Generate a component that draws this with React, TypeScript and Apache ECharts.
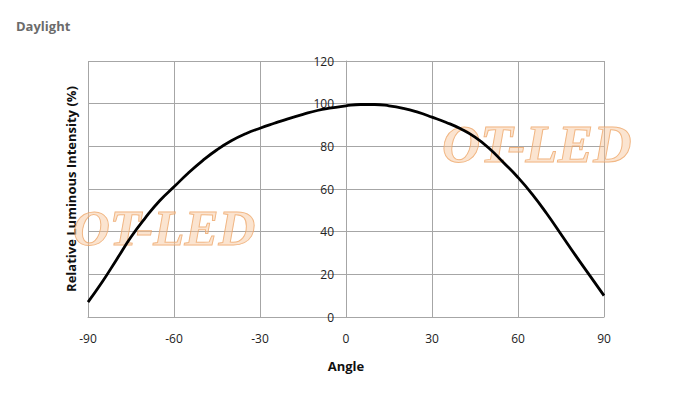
import React, { useEffect, useRef } from "react";
import * as echarts from "echarts";

const angles = [-90, -85, -80, -75, -70, -65, -60, -55, -50, -45, -40, -35, -30, -25, -20, -15, -10, -5, 0, 5, 10, 15, 20, 25, 30, 35, 40, 45, 50, 55, 60, 65, 70, 75, 80, 85, 90];
const intensity = [7, 16.5, 27, 37.5, 46.5, 54.5, 61, 67.5, 73.3, 78.4, 82.6, 85.9, 88.5, 90.8, 93, 95, 96.8, 98, 99, 99.6, 99.6, 99, 97.8, 96, 93.7, 91.2, 88.2, 84.3, 79, 72.3, 65.4, 57.5, 48.5, 38.8, 29, 19.5, 10];
const xTicks = { min: -90, max: 90, interval: 30 };
const yTicks = { min: 0, max: 120, interval: 20 };
const subtitle = "Daylight";
const yName = "Relative Luminous Intensity (%)";
const xName = "Angle";
const watermark = "OT-LED";

export default function App() {
  const ref = useRef<HTMLDivElement>(null);
  useEffect(() => {
    document.body.style.margin = "0";
    const chart = echarts.init(ref.current!, null, { renderer: "svg" });
    const font = "'Open Sans', 'Liberation Sans', sans-serif";
    const plotLeft = 88;
    const plotRight = 81;
    const plotWidth = 685 - plotLeft - plotRight;
    const zeroOffset = -plotWidth * (0 - xTicks.min) / (xTicks.max - xTicks.min);
    const wm = (x: number, y: number, size: number) => ({
      type: "text",
      x,
      y,
      z: 1,
      style: {
        text: watermark,
        font: `italic bold ${size}px 'Liberation Serif', 'DejaVu Serif', serif`,
        fill: "rgba(246, 195, 150, 0.45)",
        stroke: "rgba(236, 160, 95, 0.8)",
        lineWidth: 1,
        textVerticalAlign: "middle",
      },
    });
    chart.setOption({
      animation: false,
      grid: { left: plotLeft, right: plotRight, top: 61, bottom: 89, containLabel: false },
      xAxis: {
        type: "value",
        min: xTicks.min,
        max: xTicks.max,
        interval: xTicks.interval,
        axisLine: { show: true, lineStyle: { color: "#a6a6a6", width: 1 } },
        axisTick: { show: false },
        axisLabel: { color: "#222", fontSize: 12, fontFamily: font, margin: 15 },
        splitLine: { show: true, lineStyle: { color: "#a6a6a6", width: 1 } },
      },
      yAxis: {
        type: "value",
        min: yTicks.min,
        max: yTicks.max,
        interval: yTicks.interval,
        offset: zeroOffset,
        axisLine: { show: true, onZero: false, lineStyle: { color: "#a6a6a6", width: 1 } },
        axisTick: { show: false },
        axisLabel: { color: "#222", fontSize: 12, fontFamily: font, margin: 12 },
        splitLine: { show: true, lineStyle: { color: "#a6a6a6", width: 1 } },
      },
      graphic: [
        {
          type: "text",
          x: 16,
          y: 26,
          style: {
            text: subtitle,
            font: `bold 13px ${font}`,
            fill: "#6b6b6b",
            textVerticalAlign: "middle",
          },
        },
        {
          type: "text",
          x: 71,
          y: 189,
          rotation: Math.PI / 2,
          style: {
            text: yName,
            font: `bold 13px ${font}`,
            fill: "#111",
            textAlign: "center",
            textVerticalAlign: "middle",
          },
        },
        {
          type: "text",
          x: 346,
          y: 366,
          style: {
            text: xName,
            font: `bold 13px ${font}`,
            fill: "#111",
            textAlign: "center",
            textVerticalAlign: "middle",
          },
        },
        wm(73, 228, 51),
        wm(442, 144, 53),
      ],
      series: [
        {
          type: "line",
          data: angles.map((a, i) => [a, intensity[i]]),
          smooth: 0.5,
          showSymbol: false,
          z: 5,
          lineStyle: { color: "#000", width: 2.8 },
        },
      ],
    });
    return () => chart.dispose();
  }, []);
  return <div ref={ref} style={{ width: 685, height: 406 }} />;
}
